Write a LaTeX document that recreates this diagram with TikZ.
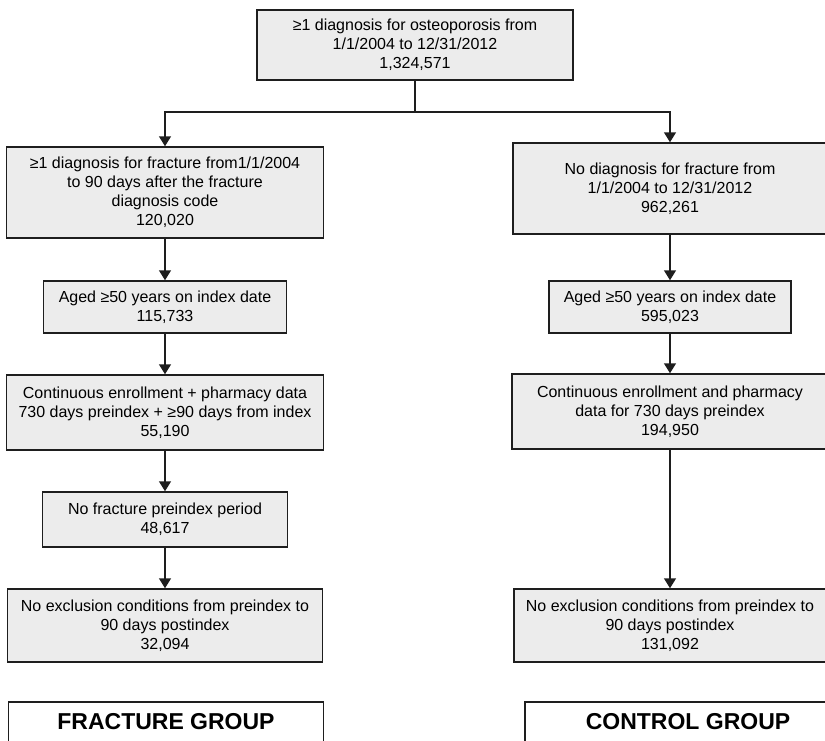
\documentclass[tikz,border=0pt]{standalone}
\usepackage{fontspec}
\setmainfont{Liberation Sans}
\usepackage{tikz}
\usetikzlibrary{arrows.meta}

\definecolor{boxfill}{HTML}{ECECEC}
\definecolor{boxline}{HTML}{1E1E1E}

\tikzset{
	stepbox/.style={draw=boxline, fill=boxfill, line width=1.5pt, inner sep=0pt,
		align=center, font=\fontsize{16}{19}\selectfont},
	groupbox/.style={draw=boxline, fill=white, line width=1.5pt, inner sep=0pt,
		minimum height=40pt, font=\fontsize{23}{26}\selectfont\bfseries},
	arr/.style={draw=boxline, line width=1.5pt, -{Triangle[width=12pt,length=10pt]}}
}

\begin{document}
\begin{tikzpicture}[x=1pt,y=-1pt]
	\clip (0,0) rectangle (825,740);
	\fill[white] (0,0) rectangle (825,740);
	\node[stepbox, minimum width=316pt, minimum height=70pt] (top) at (415,45)
		{≥1 diagnosis for osteoporosis from\\1/1/2004 to 12/31/2012\\1,324,571};
	\coordinate (split) at (415,112);
	% fracture side
	\node[stepbox, minimum width=317pt, minimum height=91pt] (f1) at (165,192.5)
		{≥1 diagnosis for fracture from1/1/2004\\to 90 days after the fracture\\diagnosis code\\120,020};
	\node[stepbox, minimum width=243pt, minimum height=52pt] (f2) at (165,307)
		{Aged ≥50 years on index date\\115,733};
	\node[stepbox, minimum width=317pt, minimum height=75pt] (f3) at (165,412.5)
		{Continuous enrollment + pharmacy data\\730 days preindex + ≥90 days from index\\55,190};
	\node[stepbox, minimum width=245pt, minimum height=55pt] (f4) at (165,519.5)
		{No fracture preindex period\\48,617};
	\node[stepbox, minimum width=315pt, minimum height=73pt] (f5) at (165,625.5)
		{No exclusion conditions from preindex to\\90 days postindex\\32,094};
	% control side
	\node[stepbox, minimum width=314pt, minimum height=91pt] (c1) at (670,188.5)
		{No diagnosis for fracture from\\1/1/2004 to 12/31/2012\\962,261};
	\node[stepbox, minimum width=242pt, minimum height=52pt] (c2) at (670,307)
		{Aged ≥50 years on index date\\595,023};
	\node[stepbox, minimum width=316pt, minimum height=75pt] (c3) at (670,411.5)
		{Continuous enrollment and pharmacy\\data for 730 days preindex\\194,950};
	\node[stepbox, minimum width=312pt, minimum height=73pt] (c5) at (670,625.5)
		{No exclusion conditions from preindex to\\90 days postindex\\131,092};
	% group labels
	\node[groupbox, minimum width=315pt] (fg) at (166,722) {FRACTURE GROUP};
	\node[groupbox, minimum width=326pt] (cg) at (688,722) {CONTROL GROUP};
	\draw[draw=boxline, line width=1.5pt] (top.south) -- (split);
	\draw[arr] (split) -| (f1.north);
	\draw[arr] (split) -| (c1.north);
	\draw[arr] (f1) -- (f2);
	\draw[arr] (f2) -- (f3);
	\draw[arr] (f3) -- (f4);
	\draw[arr] (f4) -- (f5);
	\draw[arr] (c1) -- (c2);
	\draw[arr] (c2) -- (c3);
	\draw[arr] (c3) -- (c5);
\end{tikzpicture}
\end{document}
